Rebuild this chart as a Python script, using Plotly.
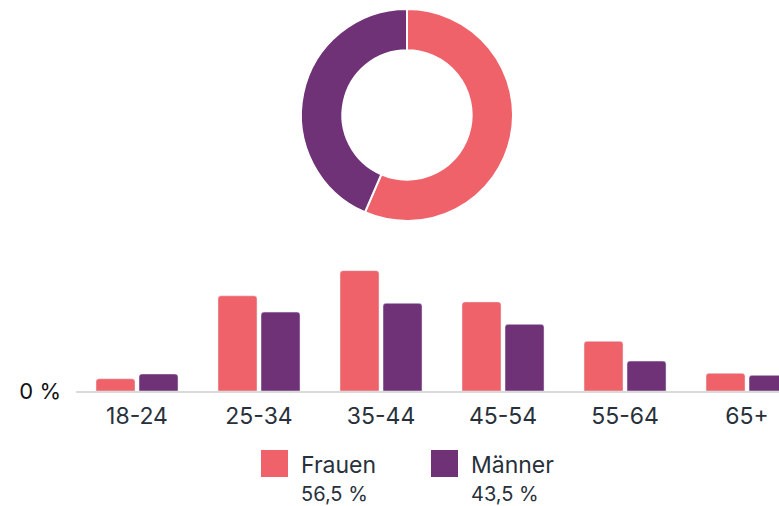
import plotly.graph_objects as go

# age groups and share of all followers (in %)
age_groups = ['18-24', '25-34', '35-44', '45-54', '55-64', '65+']
frauen = [1.8, 14.0, 17.7, 13.1, 7.3, 2.6]
maenner = [2.5, 11.6, 12.9, 9.8, 4.4, 2.3]

gender_labels = ['Frauen', 'Männer']
gender_share = [56.5, 43.5]

PINK = '#F06269'
PURPLE = '#6F3277'
TEXT = '#28313B'
FONT = 'Inter, Roboto, sans-serif'

W, H = 779, 506
H_EFF = 493  # rendered plot height seen in the screenshot


def px_x(x):
    return x / W


def px_y(y):
    return 1 - y / H_EFF


fig = go.Figure()

fig.add_trace(go.Pie(
    labels=gender_labels,
    values=gender_share,
    hole=0.61,
    sort=False,
    direction='clockwise',
    rotation=0,
    marker=dict(colors=[PINK, PURPLE], line=dict(color='white', width=2)),
    textinfo='none',
    showlegend=False,
    domain=dict(x=[px_x(301), px_x(513)], y=[px_y(221), px_y(9)]),
))

fig.add_trace(go.Bar(x=age_groups, y=frauen, name='Frauen', marker_color=PINK,
                     showlegend=False))
fig.add_trace(go.Bar(x=age_groups, y=maenner, name='Männer', marker_color=PURPLE,
                     showlegend=False))

fig.update_layout(
    width=W, height=H,
    margin=dict(l=0, r=0, t=0, b=0),
    paper_bgcolor='white', plot_bgcolor='white',
    font=dict(family=FONT, color=TEXT),
    barmode='group',
    bargap=0.295,
    bargroupgap=0.093,
    barcornerradius=3,
    xaxis=dict(
        domain=[px_x(76), 1.0],
        range=[-0.5, 5.262],
        showgrid=False, zeroline=False,
        showline=True, linecolor='#DADADA', linewidth=1.5,
        ticks='', tickfont=dict(size=23, color=TEXT),
        ticklabelstandoff=4,
    ),
    yaxis=dict(
        domain=[px_y(391), px_y(255)],
        range=[0, 20],
        showgrid=False, zeroline=False, showline=False,
        tickvals=[0], ticktext=['0 %'],
        tickfont=dict(size=22, color='#111111'),
        ticklabelstandoff=14,
    ),
)

# custom legend: colour square, label and share
legend_x = [261, 431]
for lx, label, share, color in zip(legend_x, gender_labels, gender_share, [PINK, PURPLE]):
    fig.add_shape(type='rect', xref='paper', yref='paper',
                  x0=px_x(lx), x1=px_x(lx + 27), y0=px_y(477), y1=px_y(450),
                  fillcolor=color, line_width=0)
    fig.add_annotation(x=px_x(lx + 38), y=px_y(465), xref='paper', yref='paper',
                       text=label, showarrow=False, xanchor='left', yanchor='middle',
                       font=dict(size=23, color=TEXT))
    fig.add_annotation(x=px_x(lx + 38), y=px_y(494), xref='paper', yref='paper',
                       text=f'{share:.1f} %'.replace('.', ','), showarrow=False,
                       xanchor='left', yanchor='middle',
                       font=dict(size=20, color=TEXT))

fig.write_html('out.html', config={'displayModeBar': False},
               post_script="document.body.style.margin='0';")
